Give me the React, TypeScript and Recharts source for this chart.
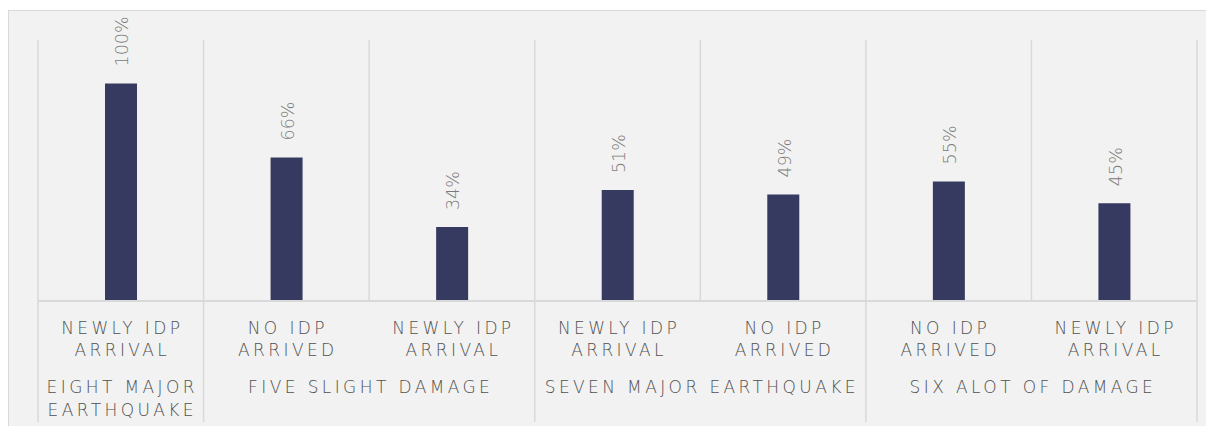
import { BarChart, Bar, XAxis, YAxis, CartesianGrid, LabelList } from "recharts";

const subLabels = [
  "NEWLY IDP|ARRIVAL",
  "NO IDP|ARRIVED",
  "NEWLY IDP|ARRIVAL",
  "NEWLY IDP|ARRIVAL",
  "NO IDP|ARRIVED",
  "NO IDP|ARRIVED",
  "NEWLY IDP|ARRIVAL",
];
const groups = [
  { name: "EIGHT MAJOR|EARTHQUAKE", size: 1 },
  { name: "FIVE SLIGHT DAMAGE", size: 2 },
  { name: "SEVEN MAJOR EARTHQUAKE", size: 2 },
  { name: "SIX ALOT OF DAMAGE", size: 2 },
];
const shares = [1.0, 0.66, 0.34, 0.51, 0.49, 0.55, 0.45];

const groupStarts: number[] = [];
let acc = 0;
groups.forEach((g) => {
  groupStarts.push(acc);
  acc += g.size;
});

const data = subLabels.map((s, i) => ({ key: "c" + i, sub: s, value: shares[i] }));

const FONT = "'DejaVu Sans', sans-serif";
const GRID = "#d9d9d9";
const TEXT = "#505050";

const CategoryTick = (props: any) => {
  const { x, y, index, width } = props;
  const band = width / data.length;
  const lines = subLabels[index].split("|");
  const gi = groupStarts.indexOf(index);
  const left = x - band / 2;
  const isLast = index === data.length - 1;
  return (
    <g>
      {lines.map((l, k) => (
        <text
          key={k}
          x={x + 1.5}
          y={y + 33 + k * 22}
          textAnchor="middle"
          fill={TEXT}
          fontSize={17}
          fontFamily={FONT}
          fontWeight={300}
          letterSpacing={3.4}
        >
          {l}
        </text>
      ))}
      {gi >= 0 && (
        <>
          <line x1={left} x2={left} y1={y} y2={y + 121} stroke={GRID} strokeWidth={1.5} />
          {groups[gi].name.split("|").map((l, k) => (
            <text
              key={"g" + k}
              x={left + (groups[gi].size * band) / 2 + 1.5}
              y={y + 92 + k * 23}
              textAnchor="middle"
              fill={TEXT}
              fontSize={17}
              fontFamily={FONT}
              fontWeight={300}
              letterSpacing={3.4}
            >
              {l}
            </text>
          ))}
        </>
      )}
      {isLast && (
        <line x1={x + band / 2} x2={x + band / 2} y1={y} y2={y + 121} stroke={GRID} strokeWidth={1.5} />
      )}
    </g>
  );
};

const ValueLabel = (props: any) => {
  const { x, y, width, value } = props;
  const cx = x + width / 2 + 1;
  const y0 = y - 17;
  return (
    <text
      x={cx}
      y={y0}
      dy="0.36em"
      transform={`rotate(-90 ${cx} ${y0})`}
      textAnchor="start"
      fill="#7a7a7a"
      fontSize={17.5}
      fontFamily={FONT}
      fontWeight={300}
    >
      {Math.round(value * 100) + "%"}
    </text>
  );
};

export default function App() {
  return (
    <div
      style={{
        marginTop: 2,
        width: 1206,
        height: 416,
        background: "#f2f2f2",
        borderTop: `1.5px solid ${GRID}`,
        borderLeft: `1.5px solid ${GRID}`,
        boxSizing: "border-box",
        overflow: "hidden",
      }}
    >
      <BarChart
        width={1205}
        height={414}
        data={data}
        margin={{ top: 29, right: 17, bottom: 0, left: 29 }}
        barCategoryGap={67}
      >
        <CartesianGrid
          horizontal={false}
          stroke={GRID}
          strokeWidth={1.5}
          verticalCoordinatesGenerator={({ offset }: any) =>
            data.map((_, i) => offset.left + (i * offset.width) / data.length).concat(offset.left + offset.width)
          }
        />
        <XAxis
          dataKey="key"
          height={124}
          tickSize={0}
          tickMargin={0}
          interval={0}
          axisLine={{ stroke: GRID, strokeWidth: 2 }}
          tick={<CategoryTick />}
        />
        <YAxis hide domain={[0, 1.2]} />
        <Bar dataKey="value" fill="#363a60" isAnimationActive={false}>
          <LabelList dataKey="value" content={<ValueLabel />} />
        </Bar>
      </BarChart>
    </div>
  );
}
